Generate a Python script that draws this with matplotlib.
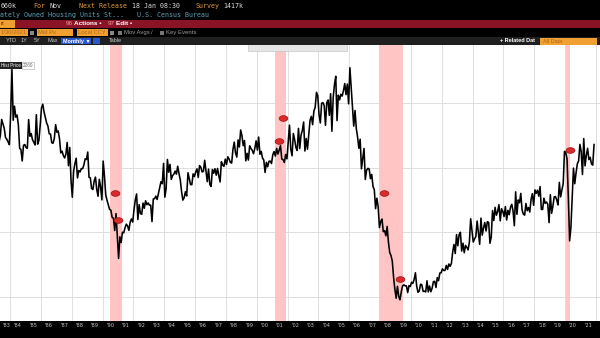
import numpy as np
import matplotlib
matplotlib.use("Agg")
import matplotlib.pyplot as plt
from matplotlib.patches import Rectangle
from matplotlib.path import Path

# ---------------- data (US housing starts, SAAR, thousands, monthly) ----------------
start_year = 1983
starts_1983_1989 = [
    1700, 1688, 1621, 1700, 1750, 1873, 1838, 1805, 1734, 1720, 1700, 1678,
    1912, 2260, 1867, 1976, 1891, 1907, 1831, 1650, 1640, 1552, 1673, 1679,
    1656, 1650, 1872, 1743, 1764, 1716, 1697, 1676, 1910, 1682, 1711, 1831,
    1962, 1991, 1931, 1888, 1846, 1822, 1763, 1760, 1693, 1689, 1727, 1833,
    1774, 1784, 1726, 1614, 1628, 1594, 1575, 1605, 1695, 1515, 1656, 1400,
    1271, 1473, 1532, 1573, 1421, 1478, 1467, 1493, 1492, 1522, 1569, 1563,
    1621, 1425, 1422, 1339, 1331, 1397, 1427, 1332, 1279, 1410, 1351, 1251,
]
starts_1990_1999 = [
    1551, 1437, 1289, 1248, 1212, 1177, 1171, 1115, 1110, 1014, 1145, 969,
    798, 965, 921, 1001, 996, 1036, 1063, 1049, 1015, 1079, 1103, 1079,
    1176, 1250, 1297, 1099, 1214, 1145, 1139, 1226, 1186, 1244, 1214, 1227,
    1210, 1210, 1083, 1258, 1260, 1280, 1254, 1300, 1343, 1392, 1376, 1533,
    1272, 1337, 1564, 1465, 1526, 1409, 1439, 1450, 1474, 1450, 1511, 1455,
    1407, 1316, 1249, 1267, 1314, 1281, 1461, 1416, 1369, 1369, 1452, 1431,
    1467, 1491, 1424, 1516, 1504, 1467, 1472, 1557, 1475, 1392, 1489, 1370,
    1355, 1486, 1457, 1492, 1442, 1494, 1437, 1390, 1546, 1520, 1510, 1566,
    1525, 1584, 1567, 1540, 1536, 1641, 1698, 1614, 1582, 1715, 1660, 1792,
    1748, 1670, 1710, 1553, 1611, 1559, 1669, 1648, 1635, 1608, 1648, 1708,
]
starts_2000_2009 = [
    1636, 1737, 1604, 1626, 1575, 1559, 1463, 1541, 1507, 1549, 1551, 1532,
    1600, 1625, 1590, 1649, 1605, 1636, 1670, 1567, 1562, 1540, 1602, 1568,
    1698, 1829, 1642, 1592, 1764, 1717, 1655, 1633, 1804, 1648, 1753, 1788,
    1853, 1629, 1726, 1643, 1751, 1867, 1897, 1833, 1939, 1967, 2083, 2057,
    1911, 1846, 1998, 2003, 1981, 1828, 2002, 2024, 1905, 2072, 1782, 2042,
    2144, 2207, 1864, 2061, 2025, 2068, 2054, 2095, 2151, 2065, 2147, 1994,
    2273, 2119, 1969, 1821, 1942, 1802, 1737, 1650, 1720, 1491, 1570, 1649,
    1409, 1480, 1495, 1490, 1415, 1448, 1354, 1330, 1183, 1264, 1197, 1037,
    1084, 1103, 1005, 1013, 973, 1046, 923, 844, 820, 777, 652, 560,
    490, 582, 505, 478, 540, 585, 594, 586, 585, 534, 588, 581,
]
starts_2010_2021 = [
    614, 604, 636, 687, 583, 536, 546, 599, 594, 543, 545, 539,
    625, 539, 585, 540, 568, 619, 621, 573, 650, 626, 685, 687,
    717, 705, 705, 744, 713, 755, 737, 759, 847, 906, 836, 982,
    896, 982, 1000, 855, 916, 842, 899, 884, 864, 925, 1105, 1015,
    925, 949, 966, 1087, 998, 907, 1110, 978, 1033, 1076, 1010, 1082,
    1077, 915, 963, 1168, 1091, 1193, 1132, 1161, 1214, 1089, 1183, 1162,
    1122, 1199, 1095, 1170, 1136, 1195, 1217, 1163, 1051, 1313, 1139, 1250,
    1229, 1301, 1173, 1141, 1133, 1223, 1167, 1192, 1157, 1255, 1299, 1209,
    1328, 1302, 1326, 1280, 1354, 1177, 1177, 1264, 1224, 1234, 1218, 1075,
    1291, 1147, 1204, 1274, 1276, 1250, 1212, 1386, 1274, 1328, 1375, 1626,
    1617, 1567, 1269, 934, 1038, 1273, 1497, 1376, 1459, 1530, 1552, 1680,
    1625, 1447, 1725, 1514, 1594, 1650, 1562, 1580, 1530, 1520, 1679,
]

recession_start = [1990.50, 2001.17, 2007.92, 2020.08]
recession_end = [1991.25, 2001.92, 2009.50, 2020.33]

event_dates = [1990.81, 1991.00, 2001.70, 2001.44, 2008.25, 2009.29, 2020.32]
event_values = [1305, 1094, 1883, 1703, 1305, 641, 1633]

year_label_years = list(range(1983, 2022))
year_labels = ["'83", "'84", "'85", "'86", "'87", "'88", "'89", "'90", "'91",
               "'92", "'93", "'94", "'95", "'96", "'97", "'98", "'99", "'00",
               "'01", "'02", "'03", "'04", "'05", "'06", "'07", "'08", "'09",
               "'10", "'11", "'12", "'13", "'14", "'15", "'16", "'17", "'18",
               "'19", "'20", "'21"]
grid_years = list(range(1984, 2024, 2))
grid_values = [500, 1000, 1500, 2000]

starts = np.array(starts_1983_1989 + starts_1990_1999 + starts_2000_2009 + starts_2010_2021, dtype=float)
dates = start_year + (np.arange(len(starts)) + 0.5) / 12.0

# ---------------- figure ----------------
W, H = 600, 338
fig = plt.figure(figsize=(W / 100, H / 100), dpi=100)
fig.patch.set_facecolor("black")

# header overlay in pixel coords
hdr = fig.add_axes([0, 0, 1, 1])
hdr.set_xlim(0, W)
hdr.set_ylim(H, 0)
hdr.axis("off")
hdr.set_facecolor("black")

ORANGE = "#e09a3e"
LIGHT = "#dcdcdc"
TEAL = "#5ba3b8"
mono = "DejaVu Sans Mono"
sans = "Liberation Sans"

def t(x, y, s, c, size=4.8, fam=mono, **kw):
    hdr.text(x, y, s, color=c, fontsize=size, family=fam, va="center", ha="left", **kw)

# row 1
t(0.5, 6, "660k", LIGHT)
t(33, 6, "For", ORANGE)
t(49, 6, "Nov", LIGHT)
t(79, 6, "Next Release", ORANGE)
t(132, 6, "18 Jan 08:30", LIGHT)
t(195, 6, "Survey", ORANGE)
t(223, 6, "1417k", LIGHT)
# row 2
t(0, 15, "ately Owned Housing Units St...", TEAL)
t(137, 15, "U.S. Census Bureau", TEAL)
# row 3 : red bar
hdr.add_patch(Rectangle((0, 19.5), W, 8.5, color="#8b1326", lw=0))
hdr.add_patch(Rectangle((0, 19.5), 15, 8.5, color="#f0a030", lw=0))
t(0.5, 23.8, "rt", "#7a3a00", size=4.3, fam=sans)
t(66, 23.8, "96", "#f29a9a", size=4.6, fam=sans)
t(74, 23.8, "Actions \u2022", "white", size=4.6, fam=sans, weight="bold")
t(108, 23.8, "97", "#f29a9a", size=4.6, fam=sans)
t(116, 23.8, "Edit \u2022", "white", size=4.6, fam=sans, weight="bold")
# row 4
for (x0, x1, s) in [(0, 28, "1/30/2021"), (37, 73, "Mid Px"), (77, 108, "Local CCY")]:
    hdr.add_patch(Rectangle((x0, 29), x1 - x0, 7, color="#f0a030", lw=0))
    t(x0 + 1, 32.6, s, "#b0661a", size=4.2, fam=sans)
hdr.add_patch(Rectangle((30, 30.5), 4, 4, color="#888888", lw=0))
hdr.add_patch(Rectangle((110, 30.5), 4, 4, color="#888888", lw=0))
hdr.add_patch(Rectangle((118, 30.5), 4, 4, color="#777777", lw=0))
t(124, 32.6, "Mov Avgs", "#9a9a9a", size=4.3, fam=sans)
t(151, 32.6, "/", "#9a9a9a", size=4.3, fam=sans)
hdr.add_patch(Rectangle((160, 30.5), 4, 4, color="#777777", lw=0))
t(166, 32.6, "Key Events", "#9a9a9a", size=4.3, fam=sans)
# row 5
hdr.add_patch(Rectangle((0, 37), W, 8, color="#1f1f1f", lw=0))
for x, s in [(6, "YTD"), (21, "1Y"), (34, "5Y"), (47, "Max"), (109, "Table")]:
    t(x, 41, s, "#c8c8c8", size=4.0, fam=sans)
hdr.add_patch(Rectangle((61, 38), 30, 6, color="#2c57c8", lw=0))
t(63, 41, "Monthly \u25BC", "white", size=3.9, fam=sans, weight="bold")
hdr.add_patch(Rectangle((93, 38), 7, 6, color="#2c57c8", lw=0))
t(500, 41, "+ Related Dat", "white", size=4.0, fam=sans, weight="bold")
hdr.add_patch(Rectangle((540, 38), 57, 6.5, color="#f0a030", lw=0))
t(543, 41.2, "All Data", "#b0661a", size=4.0, fam=sans)

# ---------------- chart axes ----------------
top_px, bot_px = 45, 321
ax = fig.add_axes([0, (H - bot_px) / H, 1, (bot_px - top_px) / H])
ax.set_facecolor("white")
ax.set_xlim(1983.351, 2022.262)
ax.set_ylim(314, 2449)

for a, b in zip(recession_start, recession_end):
    ax.axvspan(a, b, color="#ffc4c4", lw=0, zorder=1)

ax.set_xticks(grid_years)
ax.set_yticks(grid_values)
ax.grid(True, color="#dedede", lw=0.7, zorder=0)
ax.set_axisbelow(True)
ax.tick_params(which="major", length=0, labelbottom=False, labelleft=False)
ax.set_xticks([y + 0.5 for y in year_label_years], year_labels, minor=True)
ax.tick_params(which="minor", length=0, pad=1.5, labelsize=3.6, labelcolor="#c8c8c8")
first_lbl = ax.get_xticklabels(minor=True)[0]
first_lbl.set_horizontalalignment("left")
for sp in ax.spines.values():
    sp.set_visible(False)

ax.plot(dates, starts, color="black", lw=1.15, zorder=3, solid_joinstyle="round")

# event markers (lip-shaped)
th = np.linspace(0, 2 * np.pi, 40)
ell = Path(np.column_stack([np.cos(th) * 1.4, np.sin(th) * 0.9]))
ax.scatter(event_dates, event_values, marker=ell, s=40, color="#d92b2b",
           edgecolor="#9c1010", linewidth=0.5, zorder=4)

# legend stub box at top and high-value label
ax.add_patch(Rectangle((0.413, 0.978), 0.165, 0.03, transform=ax.transAxes,
                       facecolor="#e6e6e6", edgecolor="#bbbbbb", lw=0.4, zorder=5))
ax.text(0.001, 0.927, "Hist Price", transform=ax.transAxes, fontsize=3.3, color="white",
        family=sans, va="center", ha="left", zorder=6,
        bbox=dict(boxstyle="square,pad=0.25", fc="#222222", ec="none"))
ax.text(0.038, 0.927, "2260", transform=ax.transAxes, fontsize=3.3, color="#666666",
        family=sans, va="center", ha="left", zorder=6,
        bbox=dict(boxstyle="square,pad=0.25", fc="white", ec="#aaaaaa", lw=0.4))

fig.savefig("out.png", dpi=100, facecolor=fig.get_facecolor())
